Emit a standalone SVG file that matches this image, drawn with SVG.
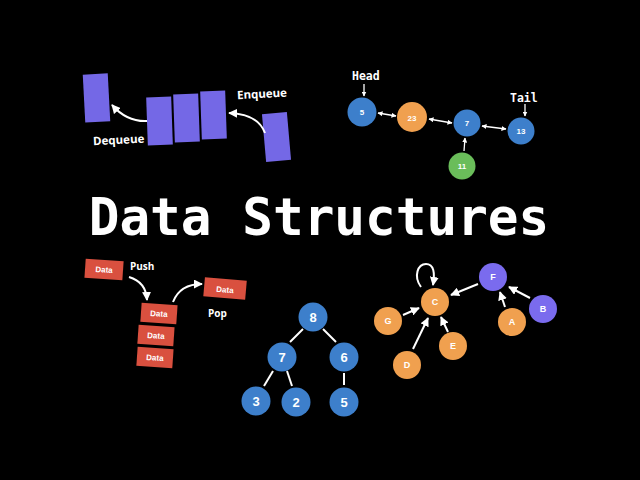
<svg xmlns="http://www.w3.org/2000/svg" width="640" height="480" viewBox="0 0 640 480">
<defs>
<marker id="ah" viewBox="0 0 10 10" refX="9" refY="5" markerWidth="5" markerHeight="5" orient="auto-start-reverse" markerUnits="userSpaceOnUse">
<path d="M0,0 L10,5 L0,10 z" fill="#fff"/>
</marker>
<marker id="ahb" viewBox="0 0 10 10" refX="9" refY="5" markerWidth="9" markerHeight="9" orient="auto-start-reverse" markerUnits="userSpaceOnUse">
<path d="M0,0 L10,5 L0,10 z" fill="#fff"/>
</marker>
<style>
.q{fill:#7468e6}
.lbl{font-family:"Open Sans","Liberation Sans",sans-serif;font-weight:bold;fill:#fff}
.n{font-family:"Liberation Sans",Arial,sans-serif;font-weight:bold;fill:#fff;text-anchor:middle;dominant-baseline:central}
.blue{fill:#3d7fcb}
.org{fill:#f0a04f}
.grn{fill:#6abd5a}
.pur{fill:#7a6bee}
.red{fill:#d9503f}
.ln{stroke:#fff;stroke-width:2;fill:none}
.thin{stroke:#fff;stroke-width:1.3;fill:none}
</style>
</defs>
<rect width="640" height="480" fill="#000"/>

<text x="319" y="235" text-anchor="middle" font-family="'DejaVu Sans Mono','Liberation Mono',monospace" font-weight="bold" font-size="51" fill="#fff">Data Structures</text>

<!-- Queue -->
<g id="queue">
<rect class="q" x="84" y="74" width="25" height="48" transform="rotate(-3 96 98)"/>
<rect class="q" x="147" y="97" width="25" height="48" transform="rotate(-2 160 121)"/>
<rect class="q" x="174" y="94" width="25" height="48" transform="rotate(-2 187 118)"/>
<rect class="q" x="201" y="91" width="25" height="48" transform="rotate(-2 214 115)"/>
<rect class="q" x="264" y="113" width="25" height="48" transform="rotate(-5 277 137)"/>
<text class="lbl" x="237" y="98" font-size="11.5" transform="rotate(-3 260 94)">Enqueue</text>
<text class="lbl" x="93" y="144" font-size="11.5" transform="rotate(-3 117 140)">Dequeue</text>
</g>

<!-- Linked list -->
<g id="ll-5"><circle class="blue" cx="362" cy="112" r="14.5"/><text class="n" x="362" y="112" font-size="8">5</text></g>
<g id="ll-23"><circle class="org" cx="412" cy="117" r="15"/><text class="n" x="412" y="118" font-size="8">23</text></g>
<g id="ll-7"><circle class="blue" cx="467" cy="123" r="13.5"/><text class="n" x="467" y="123" font-size="8">7</text></g>
<g id="ll-13"><circle class="blue" cx="521" cy="131" r="13.5"/><text class="n" x="521" y="131" font-size="8">13</text></g>
<g id="ll-11"><circle class="grn" cx="462" cy="166" r="13.5"/><text class="n" x="462" y="166" font-size="8">11</text></g>
<text x="352" y="80" font-size="11.5" font-weight="bold" fill="#fff" font-family="'DejaVu Sans Mono','Liberation Mono',monospace">Head</text>
<text x="510" y="102" font-size="11.5" font-weight="bold" fill="#fff" font-family="'DejaVu Sans Mono','Liberation Mono',monospace">Tail</text>

<!-- Stack -->
<g id="stack-push"><rect class="red" x="85" y="260" width="38" height="19" transform="rotate(4 104 270)"/><text class="n" x="104" y="270" font-size="8" transform="rotate(4 104 270)">Data</text></g>
<g id="stack-1"><rect class="red" x="141" y="304" width="36" height="19" transform="rotate(4 159 313)"/><text class="n" x="159" y="314" font-size="8" transform="rotate(4 159 313)">Data</text></g>
<g id="stack-2"><rect class="red" x="138" y="326" width="36" height="19" transform="rotate(4 156 335)"/><text class="n" x="156" y="336" font-size="8" transform="rotate(4 156 335)">Data</text></g>
<g id="stack-3"><rect class="red" x="137" y="348" width="36" height="19" transform="rotate(4 155 357)"/><text class="n" x="155" y="358" font-size="8" transform="rotate(4 155 357)">Data</text></g>
<g id="stack-pop"><rect class="red" x="204" y="279" width="42" height="19" transform="rotate(5 225 289)"/><text class="n" x="225" y="290" font-size="8" transform="rotate(5 225 289)">Data</text></g>
<text class="lbl" x="130" y="270" font-size="10">Push</text>
<text class="lbl" x="208" y="317" font-size="10">Pop</text>

<!-- Tree -->
<g id="t8"><circle class="blue" cx="313" cy="317" r="14.5"/><text class="n" x="313" y="317" font-size="13">8</text></g>
<g id="t7"><circle class="blue" cx="282" cy="357" r="14.5"/><text class="n" x="282" y="357" font-size="13">7</text></g>
<g id="t6"><circle class="blue" cx="344" cy="357" r="14.5"/><text class="n" x="344" y="357" font-size="13">6</text></g>
<g id="t3"><circle class="blue" cx="256" cy="401" r="14.5"/><text class="n" x="256" y="401" font-size="13">3</text></g>
<g id="t2"><circle class="blue" cx="296" cy="402" r="14.5"/><text class="n" x="296" y="402" font-size="13">2</text></g>
<g id="t5"><circle class="blue" cx="344" cy="402" r="14.5"/><text class="n" x="344" y="402" font-size="13">5</text></g>

<!-- Graph -->
<g id="gC"><circle class="org" cx="435" cy="302" r="14"/><text class="n" x="435" y="302" font-size="9">C</text></g>
<g id="gF"><circle class="pur" cx="493" cy="277" r="14"/><text class="n" x="493" y="277" font-size="9">F</text></g>
<g id="gB"><circle class="pur" cx="543" cy="309" r="14"/><text class="n" x="543" y="309" font-size="9">B</text></g>
<g id="gA"><circle class="org" cx="512" cy="322" r="14"/><text class="n" x="512" y="322" font-size="9">A</text></g>
<g id="gG"><circle class="org" cx="388" cy="321" r="14"/><text class="n" x="388" y="321" font-size="9">G</text></g>
<g id="gD"><circle class="org" cx="407" cy="365" r="14"/><text class="n" x="407" y="365" font-size="9">D</text></g>
<g id="gE"><circle class="org" cx="453" cy="346" r="14"/><text class="n" x="453" y="346" font-size="9">E</text></g>

<g id="connectors">
<!-- queue -->
<path class="ln" d="M265,133 Q258,114 229,113" marker-end="url(#ahb)"/>
<path class="ln" d="M147,121 Q127,122 112,105" marker-end="url(#ahb)"/>
<!-- linked list -->
<path class="thin" d="M364,84 L364,96" marker-end="url(#ah)"/>
<path class="thin" d="M525,104 L525,116" marker-end="url(#ah)"/>
<path class="thin" d="M378,113 L396,116" marker-start="url(#ah)" marker-end="url(#ah)"/>
<path class="thin" d="M429,119 L452,123" marker-start="url(#ah)" marker-end="url(#ah)"/>
<path class="thin" d="M482,126 L506,129" marker-start="url(#ah)" marker-end="url(#ah)"/>
<path class="thin" d="M464,151 L465,138" marker-end="url(#ah)"/>
<!-- stack -->
<path class="ln" d="M129,277 Q146,282 147,300" marker-end="url(#ahb)"/>
<path class="ln" d="M173,302 Q180,284 202,284" marker-end="url(#ahb)"/>
<!-- tree -->
<line class="ln" x1="303" y1="329" x2="290" y2="342"/>
<line class="ln" x1="323" y1="329" x2="336" y2="342"/>
<line class="ln" x1="273" y1="371" x2="264" y2="386"/>
<line class="ln" x1="287" y1="371" x2="292" y2="386"/>
<line class="ln" x1="344" y1="373" x2="344" y2="385"/>
<!-- graph -->
<path class="ln" d="M421,287 C413,276 418,264 426,264 C434,264 435,273 433,285" marker-end="url(#ahb)"/>
<path class="ln" d="M478,284 L451,295" marker-end="url(#ahb)"/>
<path class="ln" d="M403,315 L419,308" marker-end="url(#ahb)"/>
<path class="ln" d="M413,349 L428,318" marker-end="url(#ahb)"/>
<path class="ln" d="M448,332 L441,317" marker-end="url(#ahb)"/>
<path class="ln" d="M505,307 L500,292" marker-end="url(#ahb)"/>
<path class="ln" d="M530,298 L509,287" marker-end="url(#ahb)"/>
</g>
</svg>
